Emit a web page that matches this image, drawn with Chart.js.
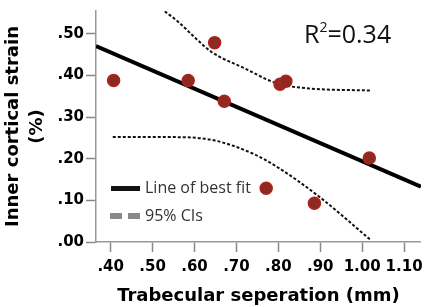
<!DOCTYPE html>
<html>
<head>
<meta charset="utf-8">
<script src="https://cdn.jsdelivr.net/npm/chart.js@4/dist/chart.umd.min.js"></script>
<style>
  html, body { margin: 0; padding: 0; background: #fff; }
  #wrap { width: 429px; height: 307px; }
</style>
</head>
<body>
<div id="wrap"><canvas id="chart"></canvas></div>
<script>
// measured points (trabecular separation mm, inner cortical strain %)
const sepX = [0.407, 0.585, 0.648, 0.671, 0.804, 0.818, 1.017, 0.771, 0.886];
const strainY = [0.388, 0.388, 0.479, 0.338, 0.379, 0.386, 0.202, 0.129, 0.093];

// line of best fit end points
const fitX = [0.365, 1.14];
const fitY = [0.471, 0.133];

// 95% confidence bands
const upperX = [0.50, 0.56, 0.60, 0.64, 0.718, 0.797, 0.874, 1.019];
const upperY = [0.575, 0.53, 0.492, 0.457, 0.418, 0.381, 0.369, 0.364];
const lowerX = [0.405, 0.54, 0.643, 0.74, 0.796, 0.896, 1.02];
const lowerY = [0.252, 0.252, 0.245, 0.212, 0.181, 0.110, 0.005];

const xTicks = [0.40, 0.50, 0.60, 0.70, 0.80, 0.90, 1.00, 1.10];
const yTicks = [0, 0.10, 0.20, 0.30, 0.40, 0.50];

const toPts = (xs, ys) => xs.map((x, i) => ({ x: x, y: ys[i] }));
const fmt = v => v < 1 ? '.' + Math.round(v * 100).toString().padStart(2, '0') : v.toFixed(2);
const axisFont = '"DejaVu Sans", Verdana, sans-serif';

// R² label + legend drawn on top
const extras = {
    id: 'extras',
    afterDraw(chart) {
        const ctx = chart.ctx;
        ctx.save();
        ctx.fillStyle = '#111';
        ctx.textBaseline = 'alphabetic';
        ctx.font = '25px "Open Sans", "Liberation Sans", sans-serif';
        ctx.fillText('R', 304, 43);
        let w = ctx.measureText('R').width;
        ctx.font = '14px "Open Sans", "Liberation Sans", sans-serif';
        ctx.fillText('2', 304 + w, 32);
        let w2 = ctx.measureText('2').width;
        ctx.font = '25px "Open Sans", "Liberation Sans", sans-serif';
        ctx.fillText('=0.34', 304 + w + w2, 43);

        // legend
        ctx.fillStyle = '#111';
        ctx.fillRect(111, 186, 29, 5);
        ctx.fillStyle = '#888';
        ctx.fillRect(110, 213, 12, 6);
        ctx.fillRect(128, 213, 12, 6);
        ctx.fillStyle = '#333';
        ctx.textBaseline = 'middle';
        ctx.font = '16px "Open Sans", sans-serif';
        ctx.fillText('Line of best fit', 145, 188);
        ctx.fillText('95% CIs', 145, 216);
        ctx.restore();
    }
};

new Chart(document.getElementById('chart'), {
    type: 'scatter',
    data: {
        datasets: [
            {
                data: toPts(fitX, fitY),
                showLine: true,
                borderColor: '#000',
                borderWidth: 4,
                pointRadius: 0,
                order: 1
            },
            {
                data: toPts(upperX, upperY),
                showLine: true,
                cubicInterpolationMode: 'monotone',
                borderColor: '#111',
                borderWidth: 2,
                borderDash: [3, 2],
                pointRadius: 0,
                order: 2
            },
            {
                data: toPts(lowerX, lowerY),
                showLine: true,
                cubicInterpolationMode: 'monotone',
                borderColor: '#111',
                borderWidth: 2,
                borderDash: [3, 2],
                pointRadius: 0,
                order: 3
            },
            {
                data: toPts(sepX, strainY),
                backgroundColor: '#8e2a22',
                borderColor: '#b0221c',
                borderWidth: 1.5,
                pointRadius: 6,
                order: 0
            }
        ]
    },
    options: {
        responsive: true,
        maintainAspectRatio: false,
        animation: false,
        layout: { padding: { top: 10, right: 3, left: 0, bottom: 0 } },
        plugins: { legend: { display: false }, tooltip: { enabled: false } },
        scales: {
            x: {
                type: 'linear',
                min: 0.365,
                max: 1.14,
                afterBuildTicks: s => { s.ticks = xTicks.map(v => ({ value: v })); },
                afterFit: s => { s.height = 65; },
                border: { color: '#999', width: 1.5 },
                grid: { drawOnChartArea: false, tickLength: 10, tickColor: '#888', tickWidth: 1.5 },
                ticks: {
                    color: '#000',
                    padding: 6,
                    maxRotation: 0,
                    font: { family: axisFont, weight: 'bold', size: 15 },
                    callback: v => fmt(v)
                },
                title: {
                    display: true,
                    text: 'Trabecular seperation (mm)',
                    color: '#000',
                    padding: { top: 2, bottom: 0 },
                    font: { family: axisFont, weight: 'bold', size: 18 }
                }
            },
            y: {
                min: 0,
                max: 0.555,
                afterBuildTicks: s => { s.ticks = yTicks.map(v => ({ value: v })); },
                afterFit: s => { s.width = 96; },
                border: { color: '#999', width: 1.5 },
                grid: { drawOnChartArea: false, tickLength: 10, tickColor: '#888', tickWidth: 1.5 },
                ticks: {
                    color: '#000',
                    padding: 2,
                    font: { family: axisFont, weight: 'bold', size: 15 },
                    callback: v => fmt(v)
                },
                title: {
                    display: true,
                    text: ['Inner cortical strain', '(%)'],
                    color: '#000',
                    padding: { top: 2, bottom: 0 },
                    font: { family: axisFont, weight: 'bold', size: 18, lineHeight: 1.3 }
                }
            }
        }
    },
    plugins: [extras]
});
</script>
</body>
</html>
